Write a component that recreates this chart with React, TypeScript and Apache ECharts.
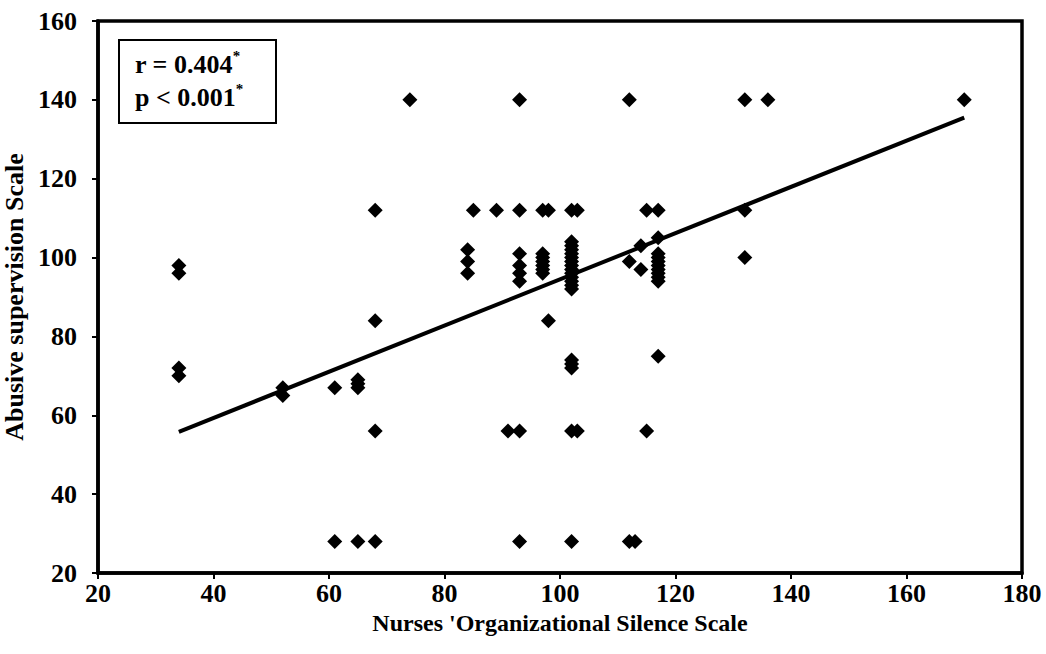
import React, { useEffect, useRef } from "react";
import * as echarts from "echarts";

// Nurses' Organizational Silence Scale (x) and Abusive supervision Scale (y)
const silenceScores: number[] = [
  34, 34, 34, 34,
  52, 52,
  61, 61,
  65, 65, 65, 65,
  68, 68, 68, 68,
  74,
  84, 84, 84,
  85,
  89,
  91,
  93, 93, 93, 93, 93, 93, 93, 93,
  97, 97, 97, 97, 97, 97, 97,
  98, 98,
  102, 102, 102, 102, 102, 102, 102, 102, 102, 102, 102, 102, 102, 102, 102, 102, 102, 102, 102,
  103, 103,
  112, 112, 112,
  113,
  114, 114,
  115, 115,
  117, 117, 117, 117, 117, 117, 117, 117, 117, 117, 117,
  132, 132, 132,
  136,
  170,
];
const supervisionScores: number[] = [
  98, 96, 72, 70,
  67, 65,
  67, 28,
  69, 68, 67, 28,
  112, 84, 56, 28,
  140,
  102, 99, 96,
  112,
  112,
  56,
  140, 112, 101, 98, 96, 94, 56, 28,
  112, 101, 100, 99, 98, 97, 96,
  112, 84,
  112, 104, 103, 102, 101, 100, 99, 98, 97, 96, 95, 94, 93, 92, 74, 73, 72, 56, 28,
  112, 56,
  140, 99, 28,
  28,
  103, 97,
  112, 56,
  112, 105, 101, 100, 99, 98, 97, 96, 95, 94, 75,
  140, 112, 100,
  140,
  140,
];

const trendX: number[] = [34, 170];
const trendY: number[] = [55.8, 135.5];

const xTicks = { min: 20, max: 180, interval: 20 };
const yTicks = { min: 20, max: 160, interval: 20 };

const xTitle = "Nurses 'Organizational Silence Scale";
const yTitle = "Abusive supervision Scale";
const statLines = ["r = 0.404", "p < 0.001"];

const FONT = "'Liberation Serif', 'Times New Roman', serif";

export default function App() {
  const ref = useRef<HTMLDivElement>(null);
  useEffect(() => {
    if (!ref.current) return;
    const chart = echarts.init(ref.current, undefined, { renderer: "svg" });
    const points = silenceScores.map((x, i) => [x, supervisionScores[i]]);
    const trend = trendX.map((x, i) => [x, trendY[i]]);
    const labelStyle = {
      color: "#000",
      fontFamily: FONT,
      fontWeight: "bold" as const,
      fontSize: 26,
    };
    const rich = {
      m: { fontSize: 26, fontWeight: "bold", fontFamily: FONT, fill: "#000", lineHeight: 32 },
      s: { fontSize: 15, fontWeight: "bold", fontFamily: FONT, fill: "#000", verticalAlign: "top", lineHeight: 32 },
    };
    chart.setOption({
      animation: false,
      backgroundColor: "#fff",
      grid: {
        left: 98,
        top: 21,
        right: 24,
        bottom: 81,
        containLabel: false,
        outerBoundsMode: "none",
        show: true,
        borderColor: "#000",
        borderWidth: 3.5,
        backgroundColor: "transparent",
      },
      xAxis: {
        type: "value",
        min: xTicks.min,
        max: xTicks.max,
        interval: xTicks.interval,
        splitLine: { show: false },
        axisLine: { show: true, lineStyle: { color: "#000", width: 3.5 } },
        axisTick: { show: true, inside: false, length: 6, lineStyle: { color: "#000", width: 2 } },
        axisLabel: { ...labelStyle, margin: 7 },
        name: xTitle,
        nameLocation: "middle",
        nameGap: 37,
        nameTextStyle: { ...labelStyle, fontSize: 24 },
      },
      yAxis: {
        type: "value",
        min: yTicks.min,
        max: yTicks.max,
        interval: yTicks.interval,
        splitLine: { show: false },
        axisLine: { show: true, lineStyle: { color: "#000", width: 3.5 } },
        axisTick: { show: true, inside: false, length: 6, lineStyle: { color: "#000", width: 2 } },
        axisLabel: { ...labelStyle, margin: 21 },
        name: yTitle,
        nameLocation: "middle",
        nameGap: 56,
        nameTextStyle: { ...labelStyle, fontSize: 26 },
      },
      series: [
        {
          type: "scatter",
          data: points,
          symbol: "diamond",
          symbolSize: 15,
          itemStyle: { color: "#000", opacity: 1 },
          z: 3,
        },
        {
          type: "line",
          data: trend,
          symbol: "none",
          lineStyle: { color: "#000", width: 4 },
          z: 2,
        },
      ],
      graphic: [
        {
          type: "rect",
          shape: { x: 119, y: 40, width: 157, height: 83 },
          style: { fill: "#fff", stroke: "#000", lineWidth: 2 },
          z: 10,
        },
        {
          type: "text",
          x: 135,
          y: 48,
          z: 11,
          style: { text: `{m|${statLines[0]}}{s|*}`, rich },
        },
        {
          type: "text",
          x: 135,
          y: 81,
          z: 11,
          style: { text: `{m|${statLines[1]}}{s|*}`, rich },
        },
      ],
    });
    return () => chart.dispose();
  }, []);
  return (
    <div
      ref={ref}
      style={{ position: "fixed", left: 0, top: 0, width: 1046, height: 654 }}
    />
  );
}
